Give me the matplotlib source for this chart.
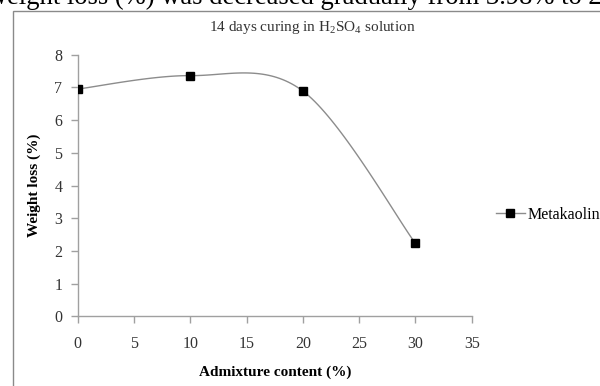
import numpy as np
import matplotlib
matplotlib.use("Agg")
import matplotlib.pyplot as plt
from matplotlib.patches import Rectangle

plt.rcParams['font.family'] = ['Liberation Serif', 'DejaVu Serif']
plt.rcParams['mathtext.fontset'] = 'custom'
plt.rcParams['mathtext.rm'] = 'Liberation Serif'

# data
admixture = [0, 10, 20, 30]
weight_loss = [6.95, 7.36, 6.89, 2.23]
x_ticks = [0, 5, 10, 15, 20, 25, 30, 35]
y_ticks = [0, 1, 2, 3, 4, 5, 6, 7, 8]


def excel_smooth(xs, ys, n=40):
    # bezier smoothing like the Excel "smoothed line" option
    pts = np.column_stack([xs, ys]).astype(float)
    out = []
    for i in range(len(pts) - 1):
        p0 = pts[i - 1] if i > 0 else pts[i]
        p1 = pts[i]
        p2 = pts[i + 1]
        p3 = pts[i + 2] if i + 2 < len(pts) else pts[i + 1]
        c1 = p1 + (p2 - p0) / 6
        c2 = p2 - (p3 - p1) / 6
        t = np.linspace(0, 1, n)[:, None]
        seg = ((1 - t) ** 3) * p1 + 3 * ((1 - t) ** 2) * t * c1 + 3 * (1 - t) * t ** 2 * c2 + t ** 3 * p2
        out.append(seg if i == 0 else seg[1:])
    out = np.vstack(out)
    return out[:, 0], out[:, 1]


W, H = 600, 386
fig = plt.figure(figsize=(W / 100, H / 100), dpi=100)

# frame of the embedded chart (runs past the crop)
fig.patches.append(Rectangle((12.5 / W, -0.1), 1.2, 1 - 10.5 / H + 0.1,
                             transform=fig.transFigure, fill=False,
                             edgecolor='#8a8a8a', linewidth=1.0))

# sentence from the page above the chart, cut off by the crop
fig.text(-16 / W, 1 - 4.5 / H, 'Weight loss (%) was decreased gradually from 3.98% to 2.98%',
         fontsize=19.2, va='baseline', ha='left', color='black')

ax = fig.add_axes([77.7 / W, 1 - 316.3 / H, (471.7 - 77.7) / W, (316.3 - 54.7) / H])

sx, sy = excel_smooth(admixture, weight_loss)
ax.plot(sx, sy, color='#8c8c8c', linewidth=1.0, zorder=2)
ax.plot(admixture, weight_loss, linestyle='none', marker='s', markersize=5.2,
        color='black', zorder=3)

ax.set_xlim(0, 35)
ax.set_ylim(0, 8)
ax.set_xticks(x_ticks)
ax.set_yticks(y_ticks)
for side in ['top', 'right']:
    ax.spines[side].set_visible(False)
for side in ['left', 'bottom']:
    ax.spines[side].set_color('#a0a0a0')
    ax.spines[side].set_linewidth(1.0)
ax.tick_params(direction='out', length=5, width=1.0, color='#a0a0a0',
               labelsize=11.5, labelcolor='#333333', pad=9)
ax.tick_params(axis='y', pad=6)

ax.set_xlabel('Admixture content (%)', fontsize=11, fontweight='bold', labelpad=10)
ax.set_ylabel('Weight loss (%)', fontsize=11, fontweight='bold', labelpad=10)

fig.text(312 / W, 1 - 27 / H, r'14 days curing in H$_2$SO$_4$ solution',
         fontsize=11, ha='center', va='center', color='#333333')

# legend entry to the right of the plot
ax.plot([], [], color='#8c8c8c', linewidth=1.0, marker='s', markersize=5.2,
        markerfacecolor='black', markeredgecolor='black', label='Metakaolin')
leg = fig.legend(loc='center left', bbox_to_anchor=(496 / W, 1 - 215 / H),
                 frameon=False, fontsize=11.5, handlelength=1.8, handletextpad=0.2,
                 borderpad=0, borderaxespad=0)

fig.savefig('out.png', dpi=100)
